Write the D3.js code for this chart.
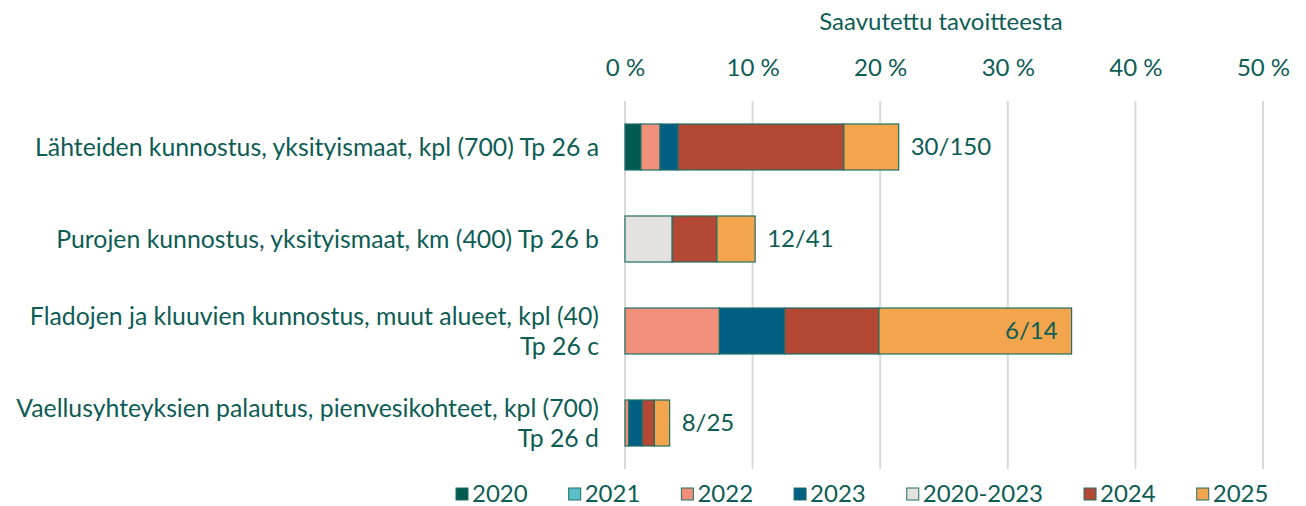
<!DOCTYPE html>
<html>
<head>
<meta charset="utf-8">
<script src="https://cdn.jsdelivr.net/npm/d3@7"></script>
<style>
  body { margin: 0; background: #fff; }
  text { font-family: Lato, "Open Sans", sans-serif; fill: #0d5c55; }
</style>
</head>
<body>
<div id="chart"></div>
<script>
// categories (each label split into lines)
const categories = [
  ["Lähteiden kunnostus, yksityismaat, kpl (700) Tp 26 a"],
  ["Purojen kunnostus, yksityismaat, km (400) Tp 26 b"],
  ["Fladojen ja kluuvien kunnostus, muut alueet, kpl (40)", "Tp 26 c"],
  ["Vaellusyhteyksien palautus, pienvesikohteet, kpl (700)", "Tp 26 d"]
];
const seriesKeys = ["2020", "2021", "2022", "2023", "2020-2023", "2024", "2025"];
const seriesColors = ["#005a50", "#5bbfc9", "#f08f7a", "#005f83", "#e3e2de", "#b34834", "#f2a54d"];

// share of target reached, per series (% per category)
const v2020 = [1.25, 0, 0, 0];
const v2021 = [0, 0, 0, 0];
const v2022 = [1.5, 0, 7.4, 0.3];
const v2023 = [1.4, 0, 5.1, 1.05];
const v2020_2023 = [0, 3.7, 0, 0];
const v2024 = [13.0, 3.5, 7.4, 0.95];
const v2025 = [4.3, 3.0, 15.1, 1.2];
const totals = ["30/150", "12/41", "6/14", "8/25"];
const xTicks = [0, 10, 20, 30, 40, 50];

const seriesValues = [v2020, v2021, v2022, v2023, v2020_2023, v2024, v2025];
const rows = categories.map((c, i) => {
  const r = { idx: i };
  seriesKeys.forEach((k, j) => r[k] = seriesValues[j][i]);
  return r;
});

const W = 1306, H = 506;
const FS = '24px';
const svg = d3.select('#chart').append('svg')
  .attr('width', W)
  .attr('height', H);

const x = d3.scaleLinear().domain([0, 50]).range([625, 1263]);
const y = d3.scaleBand().domain(d3.range(categories.length)).range([101, 469]).paddingInner(0.5).paddingOuter(0.25);
const color = d3.scaleOrdinal().domain(seriesKeys).range(seriesColors);

// gridlines
svg.append('g').selectAll('line')
  .data(xTicks)
  .enter().append('line')
  .attr('x1', d => x(d)).attr('x2', d => x(d))
  .attr('y1', 101).attr('y2', 469)
  .attr('stroke', '#d9d9d9')
  .attr('stroke-width', 2);

// top axis
const axis = svg.append('g')
  .attr('transform', 'translate(0,68)')
  .call(d3.axisTop(x).tickValues(xTicks).tickFormat(d => d + ' %').tickSize(0));
axis.select('.domain').remove();
axis.selectAll('text')
  .attr('dy', '0.35em')
  .attr('y', 0)
  .style('font-size', FS);

svg.append('text')
  .attr('x', 941).attr('y', 22)
  .attr('dy', '0.35em')
  .attr('text-anchor', 'middle')
  .style('font-size', FS)
  .text('Saavutettu tavoitteesta');

// stacked bars
const stacked = d3.stack().keys(seriesKeys)(rows);
svg.append('g').selectAll('g')
  .data(stacked)
  .enter().append('g')
  .attr('fill', d => color(d.key))
  .selectAll('rect')
  .data(d => d.filter(s => s[1] - s[0] > 0))
  .enter().append('rect')
  .attr('x', d => x(d[0]))
  .attr('width', d => x(d[1]) - x(d[0]))
  .attr('y', d => y(d.data.idx))
  .attr('height', y.bandwidth())
  .attr('stroke', '#1f6e66')
  .attr('stroke-width', 1.2);

// value labels
svg.append('g').selectAll('text')
  .data(rows)
  .enter().append('text')
  .attr('x', d => {
    const end = x(d3.sum(seriesKeys, k => d[k]));
    return d.idx === 2 ? end - 14 : end + 12;
  })
  .attr('text-anchor', d => d.idx === 2 ? 'end' : 'start')
  .attr('y', d => y(d.idx) + y.bandwidth() / 2)
  .attr('dy', '0.35em')
  .style('font-size', FS)
  .text(d => totals[d.idx]);

// category labels
const lab = svg.append('g').selectAll('text')
  .data(categories)
  .enter().append('text')
  .attr('text-anchor', 'end')
  .style('font-size', '24.8px')
  .attr('y', (d, i) => y(i) + y.bandwidth() / 2 - (d.length - 1) * 15);
lab.selectAll('tspan')
  .data(d => d)
  .enter().append('tspan')
  .attr('x', 599)
  .attr('dy', (d, i) => i === 0 ? '0.35em' : '30px')
  .text(d => d);

// legend
const legend = svg.append('g').attr('transform', 'translate(456,494)');
let lx = 0;
seriesKeys.forEach(k => {
  const g = legend.append('g').attr('transform', `translate(${lx},0)`);
  g.append('rect')
    .attr('x', 0).attr('y', -6)
    .attr('width', 12).attr('height', 12)
    .attr('fill', color(k))
    .attr('stroke', '#1f6e66')
    .attr('stroke-width', 1);
  const t = g.append('text')
    .attr('x', 16).attr('dy', '0.35em')
    .style('font-size', FS)
    .text(k);
  lx += 16 + t.node().getComputedTextLength() + 41;
});
</script>
</body>
</html>
